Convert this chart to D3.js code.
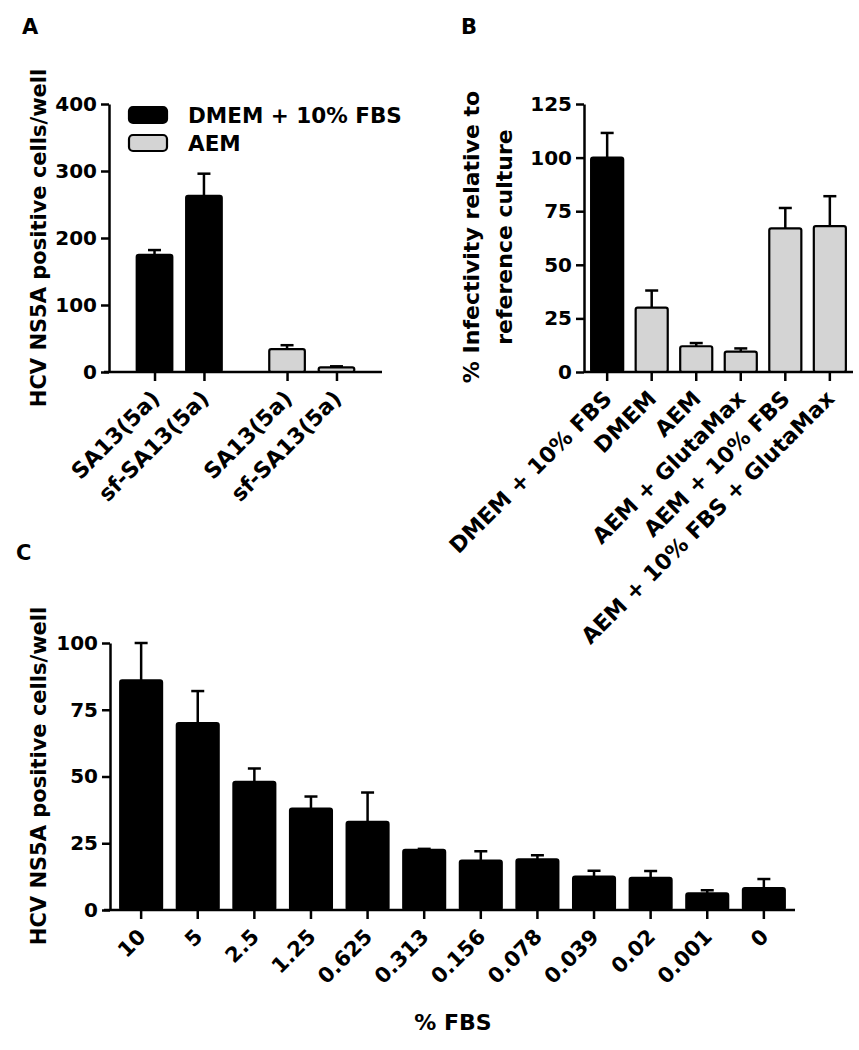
<!DOCTYPE html>
<html>
<head>
<meta charset="utf-8">
<script src="https://cdn.jsdelivr.net/npm/d3@7"></script>
<style>
  body{margin:0;background:#fff;}
  svg{display:block;}
  text{font-family:"DejaVu Sans",sans-serif;font-weight:bold;fill:#000;}
</style>
</head>
<body>
<script>
// panel A data
var mediaA=['DMEM + 10% FBS','AEM'];
var virusesA=['SA13(5a)','sf-SA13(5a)'];
var meanDmemA=[175,263];
var errDmemA=[7,33];
var meanAemA=[34,7];
var errAemA=[6,1.5];

// panel B data
var labelsB=['DMEM + 10% FBS','DMEM','AEM','AEM + GlutaMax','AEM + 10% FBS','AEM + 10% FBS + GlutaMax'];
var meanB=[100,30,12,9.5,67,68];
var errB=[11.5,8,1.5,1.5,9.5,14];

// panel C data
var fbsC=['10','5','2.5','1.25','0.625','0.313','0.156','0.078','0.039','0.02','0.001','0'];
var meanC=[86,70,48,38,33,22.5,18.5,19,12.5,12,6.2,8.2];
var errC=[14,12,5,4.5,11,0.4,3.5,1.5,2.2,2.6,1.2,3.4];

var grey='#d4d4d4';
var svg=d3.select('body').append('svg').attr('width',859).attr('height',1050);
svg.append('rect').attr('width',859).attr('height',1050).attr('fill','#fff');

function styleAxis(g,size){
    g.select('.domain').attr('stroke','#000').attr('stroke-width',2.5);
    g.selectAll('.tick line').attr('stroke','#000').attr('stroke-width',2.5);
    g.selectAll('.tick text').style('font-size',size+'px').style('font-family','DejaVu Sans').style('font-weight','bold').attr('fill','#000');
}
function yAxis(y,x0,ticks){
    var g=svg.append('g').attr('transform','translate('+x0+',0)')
        .call(d3.axisLeft(y).tickValues(ticks).tickSize(8).tickSizeOuter(0).tickPadding(4));
    styleAxis(g,20);
}
function xAxis(scale,y0,x0,x1,size,fmt){
    var g=svg.append('g').attr('transform','translate(0,'+y0+')')
        .call(d3.axisBottom(scale).tickSize(9).tickSizeOuter(0).tickFormat(fmt||null));
    g.select('.domain').remove();
    g.append('line').attr('x1',x0).attr('x2',x1).attr('stroke','#000').attr('stroke-width',2.5);
    styleAxis(g,size);
    g.selectAll('.tick text')
        .attr('y',0).attr('dy',0)
        .attr('text-anchor','end')
        .attr('transform','translate(6,28) rotate(-45)');
}
function bars(data,y,fill){
    svg.append('g').selectAll('rect').data(data).enter().append('rect')
        .attr('x',d=>d.x).attr('width',d=>d.w)
        .attr('y',d=>y(d.v)).attr('height',d=>y(0)-y(d.v))
        .attr('rx',2)
        .attr('fill',d=>d.fill||fill)
        .attr('stroke','#000').attr('stroke-width',2.2);
    var eb=svg.append('g').attr('stroke','#000').attr('stroke-width',2.5);
    eb.selectAll('.v').data(data).enter().append('line')
        .attr('x1',d=>d.x+d.w/2).attr('x2',d=>d.x+d.w/2)
        .attr('y1',d=>y(d.v)).attr('y2',d=>y(d.v+d.e));
    eb.selectAll('.c').data(data).enter().append('line')
        .attr('x1',d=>d.x+d.w/2-6.5).attr('x2',d=>d.x+d.w/2+6.5)
        .attr('y1',d=>y(d.v+d.e)).attr('y2',d=>y(d.v+d.e));
}
function yTitle(lines,x,yc,size,gap){
    lines.forEach(function(t,i){
        svg.append('text')
            .attr('transform','translate('+(x+i*gap)+','+yc+') rotate(-90)')
            .attr('text-anchor','middle').style('font-size',size+'px').text(t);
    });
}
function letter(t,x,y){
    svg.append('text').attr('x',x).attr('y',y).style('font-size','21px').text(t);
}

// ---------- A ----------
var yA=d3.scaleLinear().domain([0,400]).range([372,104]);
var x0A=d3.scaleBand().domain(mediaA).range([109,382]).paddingInner(0.254).paddingOuter(0.157);
var x1A=d3.scaleBand().domain(virusesA).range([0,x0A.bandwidth()]).paddingInner(0.28).paddingOuter(0.14);
var dataA=[];
virusesA.forEach(function(v,i){dataA.push({key:mediaA[0]+'|'+v,x:x0A(mediaA[0])+x1A(v),w:x1A.bandwidth(),v:meanDmemA[i],e:errDmemA[i],fill:'#000'});});
virusesA.forEach(function(v,i){dataA.push({key:mediaA[1]+'|'+v,x:x0A(mediaA[1])+x1A(v),w:x1A.bandwidth(),v:meanAemA[i],e:errAemA[i],fill:grey});});
bars(dataA,yA);
var tickA=d3.scaleOrdinal().domain(dataA.map(d=>d.key)).range(dataA.map(d=>d.x+d.w/2));
xAxis(tickA,372,104,382,22,d=>d.split('|')[1]);
yAxis(yA,109,[0,100,200,300,400]);
yTitle(['HCV NS5A positive cells/well'],46,238,21,0);
letter('A',22,34);
// legend
var legA=svg.append('g');
mediaA.forEach(function(m,i){
    legA.append('rect').attr('x',129).attr('y',107+i*28).attr('width',38).attr('height',16).attr('rx',4)
        .attr('fill',i==0?'#000':grey).attr('stroke','#000').attr('stroke-width',2.2);
    legA.append('text').attr('x',188).attr('y',123+i*28).style('font-size','21.5px').text(m);
});

// ---------- B ----------
var yB=d3.scaleLinear().domain([0,125]).range([372,104]);
var xB=d3.scaleBand().domain(labelsB).range([584,853]).paddingInner(0.28).paddingOuter(0.16);
var dataB=labelsB.map(function(l,i){return {x:xB(l),w:xB.bandwidth(),v:meanB[i],e:errB[i],fill:i==0?'#000':grey};});
bars(dataB,yB);
xAxis(xB,372,584,853,22);
yAxis(yB,584,[0,25,50,75,100,125]);
yTitle(['% Infectivity relative to','reference culture'],479,237,22,33);
letter('B',461,34);

// ---------- C ----------
var yC=d3.scaleLinear().domain([0,100]).range([910,643]);
var xC=d3.scaleBand().domain(fbsC).range([110,795]).paddingInner(0.26).paddingOuter(0.18);
var dataC=fbsC.map(function(l,i){return {x:xC(l),w:xC.bandwidth(),v:meanC[i],e:errC[i]};});
bars(dataC,yC,'#000');
xAxis(xC,910,104,795,21);
yAxis(yC,110,[0,25,50,75,100]);
yTitle(['HCV NS5A positive cells/well'],46,776,21,0);
letter('C',16,560);
svg.append('text').attr('x',453).attr('y',1030).attr('text-anchor','middle').style('font-size','22px').text('% FBS');
</script>
</body>
</html>
